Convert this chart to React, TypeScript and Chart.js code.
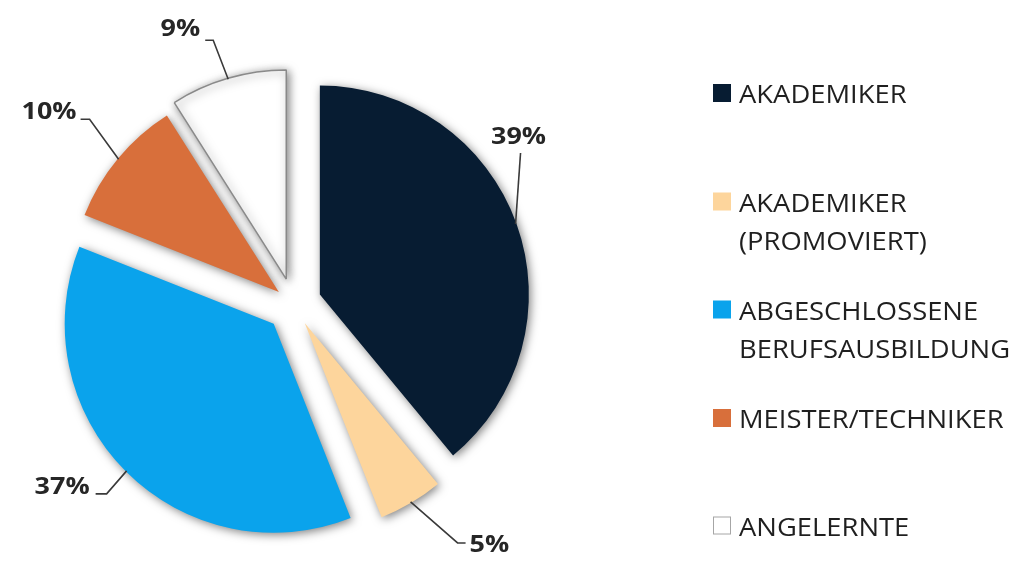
import React, { useEffect, useRef } from 'react';
import { Chart, registerables } from 'chart.js';

Chart.register(...registerables);

// ---- data ----
const categories: string[][] = [
  ['AKADEMIKER'],
  ['AKADEMIKER', '(PROMOVIERT)'],
  ['ABGESCHLOSSENE', 'BERUFSAUSBILDUNG'],
  ['MEISTER/TECHNIKER'],
  ['ANGELERNTE'],
];
const values = [39, 5, 37, 10, 9];
const percentLabels = ['39%', '5%', '37%', '10%', '9%'];

// ---- styles ----
const sliceColors = ['#071c32', '#fdd59c', '#0aa3ec', '#d86f3b', '#ffffff'];
const sliceBorderColors = ['#071c32', '#fdd59c', '#0aa3ec', '#d86f3b', '#8a8a8a'];
const sliceBorderWidths = [0, 0, 0, 0, 1.5];
const explodeDist = [28, 22, 28, 19, 26];

// leader-line layout relative to the slice's outer mid point
const labelLayout = [
  { elbow: [5, -71], tail: 0, text: [-2, -9], align: 'center' as CanvasTextAlign },
  { elbow: [47, 41], tail: 8, text: [4, 9], align: 'left' as CanvasTextAlign },
  { elbow: [-20, 23], tail: -11, text: [-6, 0], align: 'right' as CanvasTextAlign },
  { elbow: [-29, -40], tail: -9, text: [-4, 0], align: 'right' as CanvasTextAlign },
  { elbow: [-15, -39], tail: -8, text: [-5, -4], align: 'right' as CanvasTextAlign },
];

const legendLayout = {
  boxX: 713,
  box: 18,
  textX: 739,
  baselines: [103, 211.5, 319.5, 428, 535.5],
  lineGap: 38,
  font: '25px "Open Sans"',
  scaleX: 1.095,
  color: '#1f1f1f',
};

const explodePlugin = {
  id: 'explodeShadow',
  beforeDatasetDraw(chart: any, args: any) {
    const ctx: CanvasRenderingContext2D = chart.ctx;
    const meta = args.meta;
    ctx.save();
    ctx.shadowColor = 'rgba(0,0,0,0.5)';
    ctx.shadowBlur = 10;
    ctx.shadowOffsetX = 2;
    ctx.shadowOffsetY = 2;
    meta.data.forEach((arc: any, i: number) => {
      const half = (arc.startAngle + arc.endAngle) / 2;
      const d = explodeDist[i];
      ctx.save();
      ctx.translate(Math.cos(half) * d, Math.sin(half) * d);
      arc.draw(ctx);
      ctx.restore();
    });
    ctx.restore();
    return false;
  },
};

const labelPlugin = {
  id: 'pctLabels',
  afterDatasetsDraw(chart: any) {
    const ctx: CanvasRenderingContext2D = chart.ctx;
    const meta = chart.getDatasetMeta(0);
    ctx.save();
    ctx.strokeStyle = '#3a3a3a';
    ctx.lineWidth = 1.6;
    ctx.fillStyle = '#262626';
    ctx.font = 'bold 23px "Open Sans"';
    ctx.textBaseline = 'alphabetic';
    meta.data.forEach((arc: any, i: number) => {
      const half = (arc.startAngle + arc.endAngle) / 2;
      const d = explodeDist[i];
      const cx = arc.x + Math.cos(half) * d;
      const cy = arc.y + Math.sin(half) * d;
      const ax = cx + Math.cos(half) * (arc.outerRadius - 1);
      const ay = cy + Math.sin(half) * (arc.outerRadius - 1);
      const L = labelLayout[i];
      const ex = ax + L.elbow[0];
      const ey = ay + L.elbow[1];
      const hx = ex + L.tail;
      ctx.beginPath();
      ctx.moveTo(ax, ay);
      ctx.lineTo(ex, ey);
      if (L.tail !== 0) ctx.lineTo(hx, ey);
      ctx.stroke();
      ctx.save();
      ctx.translate(hx + L.text[0], ey + L.text[1]);
      ctx.scale(1.17, 1);
      ctx.textAlign = L.align;
      ctx.fillText(percentLabels[i], 0, 0);
      ctx.restore();
    });
    ctx.restore();

    // legend
    const g = legendLayout;
    ctx.save();
    ctx.font = g.font;
    ctx.textBaseline = 'alphabetic';
    ctx.textAlign = 'left';
    categories.forEach((lines, i) => {
      const base = g.baselines[i];
      ctx.fillStyle = sliceColors[i];
      ctx.fillRect(g.boxX, base - 19, g.box, g.box);
      if (sliceBorderWidths[i] > 0) {
        ctx.strokeStyle = '#a6a6a6';
        ctx.lineWidth = 1;
        ctx.strokeRect(g.boxX + 0.5, base - 18.5, g.box - 1, g.box - 1);
      }
      ctx.fillStyle = g.color;
      lines.forEach((ln, k) => {
        ctx.save();
        ctx.translate(g.textX, base + k * g.lineGap);
        ctx.scale(g.scaleX, 1);
        ctx.fillText(ln, 0, 0);
        ctx.restore();
      });
    });
    ctx.restore();
  },
};

export default function App() {
  const ref = useRef<HTMLCanvasElement | null>(null);
  useEffect(() => {
    if (!ref.current) return;
    const chart = new Chart(ref.current, {
      type: 'pie',
      data: {
        labels: categories.map((c) => c.join(' ')),
        datasets: [
          {
            data: values,
            backgroundColor: sliceColors,
            borderColor: sliceBorderColors,
            borderWidth: sliceBorderWidths,
          },
        ],
      },
      options: {
        animation: false,
        responsive: false,
        maintainAspectRatio: false,
        radius: 209,
        layout: { padding: { left: 0, right: 425, top: 46, bottom: 0 } },
        plugins: {
          legend: { display: false },
          tooltip: { enabled: false },
        },
      } as any,
      plugins: [explodePlugin, labelPlugin],
    });
    return () => chart.destroy();
  }, []);
  return (
    <div style={{ position: 'fixed', left: 0, top: 0, width: 1012, height: 562, background: '#fff' }}>
      <canvas ref={ref} width={1012} height={562} style={{ width: 1012, height: 562 }} />
    </div>
  );
}
